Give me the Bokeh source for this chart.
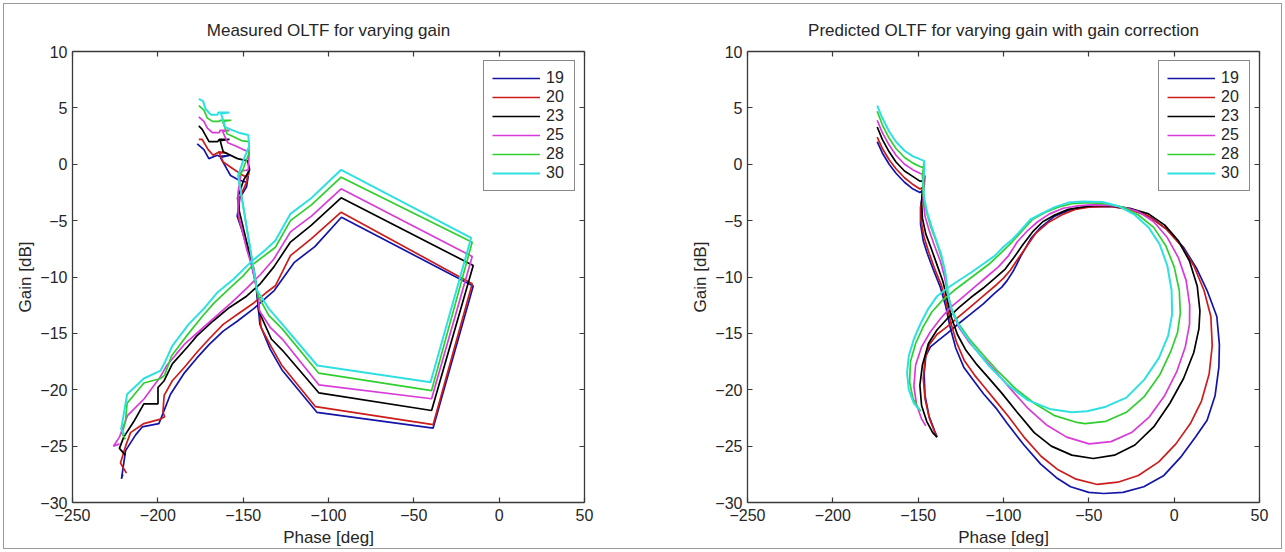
from bokeh.plotting import figure
from bokeh.models import (Range1d, LinearAxis, FixedTicker, Legend, LegendItem, Title,
                          CustomLabelingPolicy)
from bokeh.layouts import row
from bokeh.embed import file_html
from bokeh.resources import INLINE

# ---------------- data ----------------
gains = ["19", "20", "23", "25", "28", "30"]
colors = ["#1414a8", "#cc1c1c", "#000000", "#d93ad9", "#2ecf2e", "#2fe0e0"]
x_ticks = [-250, -200, -150, -100, -50, 0, 50]
y_ticks = [-30, -25, -20, -15, -10, -5, 0, 5, 10]

# Measured OLTF (left)
m19_phase = [-176.9, -173.0, -170.1, -165.2, -164.0, -157.4, -163.3, -160.0, -157.4, -152.6, -148.0, -147.0, -148.0, -152.0, -153.5, -147.4, -142.6, -140.2, -134.2, -127.0, -106.8, -38.7, -15.2, -92.4, -108.0, -120.0, -131.8, -137.0, -143.8, -153.3, -161.7, -170.0, -177.2, -184.4, -192.6, -197.5, -199.4, -209.2, -213.0, -218.9, -221.3, -220.5]
m19_gain = [1.8, 1.3, 0.5, 0.8, 0.7, 0.8, 0.6, -0.3, -1.0, -1.4, -1.6, -1.0, -2.0, -3.0, -4.6, -7.3, -10.5, -14.2, -16.4, -18.3, -22.0, -23.4, -10.8, -4.7, -7.3, -8.7, -11.2, -11.9, -12.8, -13.9, -14.8, -16.0, -17.2, -18.5, -20.4, -22.3, -23.0, -23.3, -24.0, -25.4, -27.9, -27.5]

m20_phase = [-176.0, -174.0, -170.5, -167.6, -164.0, -159.3, -164.0, -161.7, -156.0, -151.0, -148.5, -146.7, -146.5, -148.0, -152.2, -152.6, -148.5, -143.8, -140.9, -139.5, -133.5, -127.5, -107.6, -38.7, -15.8, -92.6, -110.0, -122.3, -131.0, -136.6, -143.8, -153.3, -161.7, -170.0, -177.2, -184.4, -191.5, -196.3, -197.0, -196.0, -198.4, -208.2, -216.0, -218.9, -221.9, -218.4]
m20_gain = [2.2, 2.2, 1.3, 0.8, 1.1, 1.0, 1.0, 0.2, -0.4, -0.9, -1.1, -0.9, -0.2, -1.6, -3.0, -4.8, -7.0, -9.2, -12.3, -14.5, -16.2, -17.8, -21.5, -23.1, -10.6, -4.25, -6.6, -8.1, -10.75, -11.4, -12.3, -13.3, -14.2, -15.5, -16.7, -18.0, -19.2, -20.5, -22.0, -22.4, -22.6, -23.0, -23.8, -25.0, -26.5, -27.4]

m23_phase = [-176.0, -174.0, -170.0, -165.0, -164.0, -158.0, -163.5, -161.7, -153.3, -147.4, -146.2, -149.7, -153.3, -152.2, -146.2, -141.9, -140.9, -133.5, -127.0, -105.7, -39.6, -15.2, -92.6, -110.0, -122.3, -132.0, -140.0, -148.0, -158.0, -167.6, -177.0, -182.0, -191.5, -196.3, -199.9, -199.9, -208.2, -214.0, -220.0, -222.5, -219.0]
m23_gain = [3.4, 3.1, 2.0, 2.0, 2.2, 2.2, 2.1, 1.1, 0.5, 0.3, -0.5, -1.4, -3.0, -4.2, -8.0, -11.1, -13.0, -15.5, -16.5, -20.27, -21.84, -8.98, -2.98, -5.4, -6.9, -9.1, -10.6, -11.7, -12.7, -13.9, -15.2, -16.1, -17.7, -19.2, -19.8, -21.25, -21.25, -22.8, -24.2, -25.2, -25.8]

m25_phase = [-176.0, -173.0, -171.0, -168.0, -164.0, -163.5, -158.0, -162.0, -159.0, -154.0, -150.0, -146.5, -147.0, -151.0, -153.0, -153.0, -148.0, -145.0, -141.5, -140.5, -134.0, -127.1, -105.7, -39.6, -15.8, -92.6, -110.0, -122.3, -132.0, -140.0, -148.0, -157.0, -166.0, -175.0, -184.0, -189.0, -195.0, -198.7, -208.0, -217.8, -222.5, -226.0, -222.5]
m25_gain = [4.2, 3.8, 3.2, 2.8, 2.8, 3.0, 3.0, 2.9, 1.9, 1.6, 1.3, 1.1, -0.5, -0.6, -2.5, -4.3, -7.5, -9.0, -11.5, -13.0, -14.5, -15.5, -19.56, -20.8, -8.18, -2.18, -4.6, -6.0, -8.4, -9.8, -11.0, -12.3, -13.5, -14.7, -15.9, -16.8, -17.9, -18.9, -20.8, -22.3, -24.2, -25.0, -24.8]

m28_phase = [-176.0, -173.0, -171.0, -168.0, -164.0, -163.5, -157.0, -162.0, -159.5, -155.0, -151.0, -146.7, -146.5, -150.0, -152.6, -147.0, -141.5, -135.0, -127.1, -105.7, -39.6, -15.8, -92.6, -110.0, -122.3, -131.1, -143.8, -150.0, -158.0, -167.0, -174.0, -183.0, -192.0, -196.0, -198.4, -208.2, -218.0, -218.9, -220.9, -219.0]
m28_gain = [5.2, 4.8, 4.1, 3.8, 3.8, 3.9, 3.9, 3.8, 2.7, 2.4, 2.1, 2.0, 1.0, -0.4, -1.2, -6.5, -11.6, -13.4, -14.6, -18.53, -20.07, -6.91, -1.15, -3.6, -5.0, -7.36, -8.83, -9.9, -11.0, -12.3, -13.5, -15.2, -17.0, -18.7, -19.0, -19.4, -21.2, -22.7, -23.9, -24.4]

m30_phase = [-176.0, -173.5, -172.0, -169.0, -165.0, -164.5, -158.0, -163.0, -160.5, -156.0, -152.6, -147.0, -146.5, -150.0, -153.0, -147.5, -141.8, -135.0, -128.1, -106.6, -40.2, -16.4, -92.6, -110.0, -122.3, -131.1, -137.0, -145.7, -155.7, -165.3, -172.4, -182.0, -191.5, -196.3, -198.4, -208.2, -218.0, -219.9, -221.5, -219.5]
m30_gain = [5.8, 5.6, 4.9, 4.4, 4.4, 4.6, 4.6, 4.5, 3.3, 3.0, 2.8, 2.6, 1.6, 0.3, -1.0, -6.0, -11.2, -12.8, -14.0, -17.85, -19.33, -6.52, -0.49, -3.0, -4.4, -6.76, -7.6, -8.7, -10.2, -11.4, -12.7, -14.2, -16.1, -17.7, -18.3, -19.0, -20.4, -22.1, -23.5, -24.0]

# Predicted OLTF with gain correction (right)
p19_phase = [-174.0, -171.0, -167.0, -163.0, -158.0, -153.0, -149.0, -147.0, -146.5, -147.5, -148.6, -148.6, -147.0, -144.7, -141.0, -137.0, -134.0, -131.5, -128.0, -123.3, -117.0, -111.5, -104.0, -97.8, -88.0, -78.2, -69.0, -60.7, -50.0, -41.2, -30.0, -17.8, -6.0, 3.7, 12.5, 19.3, 24.0, 26.2, 26.5, 25.0, 19.3, 13.0, 5.6, -4.0, -13.9, -25.0, -37.3, -45.0, -53.0, -62.0, -70.0, -78.2, -84.0, -90.0, -94.0, -97.8, -101.0, -105.6, -112.0, -119.3, -126.0, -133.0, -138.0, -142.8, -145.5, -146.5, -146.0, -143.7, -140.5, -138.9]
p19_gain = [2.0, 1.0, 0.0, -0.8, -1.6, -2.2, -2.5, -2.3, -1.5, -2.8, -3.8, -5.3, -6.8, -7.9, -9.4, -10.9, -12.5, -14.3, -16.3, -18.0, -19.3, -20.4, -21.7, -23.0, -24.9, -26.6, -27.8, -28.6, -29.1, -29.2, -29.1, -28.6, -27.6, -26.0, -24.2, -22.7, -20.5, -18.0, -16.0, -13.5, -11.2, -9.2, -7.4, -5.8, -4.7, -4.0, -3.75, -3.75, -3.8, -4.1, -4.6, -5.6, -6.6, -8.2, -9.4, -10.3, -10.9, -11.5, -12.4, -13.3, -14.1, -15.0, -15.6, -16.2, -17.0, -18.6, -20.5, -22.3, -23.6, -24.2]

p20_phase = [-174.0, -171.0, -167.0, -163.0, -158.0, -153.0, -149.0, -146.5, -146.0, -147.0, -148.3, -148.3, -146.5, -144.0, -140.5, -136.5, -133.5, -131.0, -127.5, -123.0, -117.0, -111.0, -104.0, -97.0, -88.0, -78.0, -68.0, -58.0, -45.0, -33.0, -21.0, -9.0, 1.0, 9.5, 16.0, 20.5, 22.3, 21.5, 17.5, 11.5, 4.0, -5.0, -15.0, -26.0, -37.0, -42.6, -50.0, -58.0, -66.0, -74.0, -81.0, -87.0, -92.0, -96.0, -100.0, -105.0, -112.0, -119.0, -126.0, -133.0, -139.0, -143.5, -146.0, -147.0, -146.0, -143.5, -140.5, -139.0]
p20_gain = [2.4, 1.4, 0.4, -0.4, -1.2, -1.8, -2.2, -2.0, -1.0, -2.5, -3.6, -5.0, -6.5, -7.7, -9.2, -10.7, -12.3, -14.0, -15.8, -17.4, -18.7, -19.8, -21.1, -22.4, -24.2, -25.9, -27.1, -27.9, -28.4, -28.2, -27.6, -26.4, -24.8, -23.0, -21.0, -18.6, -16.1, -13.5, -11.2, -9.0, -7.2, -5.7, -4.6, -4.0, -3.75, -3.75, -3.8, -4.0, -4.5, -5.2, -6.1, -7.4, -8.5, -9.4, -10.1, -10.8, -11.7, -12.6, -13.5, -14.4, -15.1, -16.0, -17.3, -19.0, -20.8, -22.5, -23.7, -24.2]

p23_phase = [-174.0, -171.0, -167.0, -163.0, -158.0, -153.0, -149.0, -147.0, -146.5, -147.5, -148.0, -147.5, -145.5, -142.5, -139.0, -135.5, -133.0, -130.5, -127.0, -122.0, -116.0, -109.0, -101.0, -92.0, -82.0, -72.0, -60.0, -47.4, -35.0, -23.0, -12.0, -2.5, 5.5, 11.5, 14.5, 15.1, 13.5, 9.0, 2.5, -5.5, -15.0, -26.0, -37.0, -46.2, -54.0, -62.0, -70.0, -77.0, -83.0, -89.0, -94.0, -99.0, -105.0, -112.0, -119.0, -126.0, -133.0, -139.0, -144.0, -147.5, -149.0, -148.0, -145.0, -141.5, -139.0]
p23_gain = [3.3, 2.2, 1.1, 0.2, -0.6, -1.1, -1.5, -1.5, -0.8, -2.3, -3.3, -4.8, -6.2, -7.4, -8.9, -10.4, -12.0, -13.6, -15.1, -16.5, -17.7, -18.9, -20.3, -22.0, -23.8, -25.0, -25.8, -26.1, -25.8, -24.9, -23.3, -21.2, -19.0, -16.7, -14.6, -13.0, -10.8, -8.6, -6.8, -5.4, -4.4, -3.9, -3.7, -3.65, -3.8, -4.0, -4.5, -5.1, -6.0, -7.2, -8.3, -9.3, -10.1, -11.0, -11.8, -12.7, -13.7, -14.7, -15.9, -17.8, -19.6, -21.4, -22.8, -23.8, -24.2]

p25_phase = [-174.0, -171.0, -167.0, -163.0, -158.0, -153.0, -149.0, -147.0, -146.5, -147.0, -147.0, -146.0, -143.5, -140.5, -137.0, -134.5, -132.5, -130.0, -126.0, -120.0, -113.0, -105.0, -96.0, -86.0, -75.0, -63.0, -49.8, -37.0, -25.0, -14.5, -5.5, 1.5, 6.5, 9.0, 9.1, 7.0, 2.5, -4.0, -12.0, -21.0, -30.0, -38.0, -48.6, -57.0, -65.0, -73.0, -80.0, -86.0, -92.0, -97.0, -103.0, -110.0, -117.0, -124.0, -131.0, -137.0, -143.0, -148.0, -151.5, -152.5, -151.0, -148.0, -145.5]
p25_gain = [3.9, 2.8, 1.7, 0.8, 0.0, -0.5, -0.8, -0.9, -0.3, -1.8, -3.2, -4.6, -5.9, -7.2, -8.6, -10.0, -11.6, -13.1, -14.5, -15.8, -17.0, -18.3, -19.9, -21.6, -23.1, -24.2, -24.8, -24.6, -23.8, -22.4, -20.5, -18.4, -16.2, -14.2, -12.5, -10.3, -8.3, -6.5, -5.1, -4.2, -3.8, -3.65, -3.6, -3.7, -3.9, -4.4, -5.1, -5.9, -6.9, -8.1, -9.1, -10.0, -10.9, -11.8, -12.7, -13.7, -14.9, -16.2, -17.8, -19.7, -21.3, -22.6, -23.2]

p28_phase = [-174.0, -171.0, -167.0, -163.0, -158.0, -153.0, -149.0, -147.0, -146.5, -147.5, -147.0, -145.0, -142.5, -139.5, -136.5, -134.0, -133.0, -130.5, -126.5, -120.0, -112.0, -103.0, -93.0, -82.0, -70.0, -57.0, -52.2, -40.0, -28.0, -17.5, -8.5, -2.0, 2.0, 3.6, 3.0, 0.0, -5.0, -12.0, -21.0, -30.0, -40.0, -51.0, -60.0, -68.0, -76.0, -83.0, -89.0, -95.0, -101.0, -108.0, -115.0, -122.0, -129.0, -136.0, -142.0, -147.0, -151.5, -154.5, -155.0, -153.0, -150.0, -148.5]
p28_gain = [4.7, 3.5, 2.3, 1.4, 0.6, 0.1, -0.2, -0.3, 0.2, -1.0, -2.8, -4.3, -5.6, -6.8, -8.2, -9.7, -11.3, -12.8, -14.1, -15.5, -16.9, -18.4, -19.9, -21.2, -22.3, -22.9, -23.0, -22.8, -22.0, -20.6, -18.7, -16.6, -14.9, -13.2, -11.2, -9.1, -7.2, -5.6, -4.5, -3.8, -3.5, -3.4, -3.5, -3.8, -4.3, -4.9, -5.9, -6.9, -7.8, -8.8, -9.6, -10.4, -11.2, -12.1, -13.1, -14.4, -15.9, -17.5, -19.3, -20.8, -21.6, -21.9]

p30_phase = [-174.0, -171.0, -167.0, -163.0, -158.0, -153.0, -149.0, -146.5, -146.3, -147.0, -146.5, -144.5, -142.0, -139.5, -136.5, -134.5, -133.0, -132.0, -129.5, -125.0, -118.0, -109.0, -98.0, -86.0, -73.0, -60.0, -51.0, -40.0, -28.0, -17.5, -9.0, -3.5, -1.2, -1.5, -4.0, -8.5, -15.0, -23.0, -32.0, -42.0, -53.4, -62.0, -70.0, -78.0, -84.2, -90.0, -95.0, -99.8, -105.0, -111.5, -119.0, -127.1, -133.0, -138.9, -144.0, -148.5, -152.5, -155.5, -156.5, -155.5, -152.5, -149.0]
p30_gain = [5.2, 4.1, 2.9, 2.0, 1.2, 0.7, 0.45, 0.3, -0.4, -1.5, -3.0, -4.4, -5.6, -6.7, -8.0, -9.3, -10.8, -12.0, -13.3, -14.6, -16.1, -17.8, -19.5, -20.9, -21.7, -22.0, -21.9, -21.5, -20.7, -19.1, -17.2, -15.2, -13.3, -11.2, -9.0, -7.1, -5.6, -4.5, -3.75, -3.35, -3.3, -3.4, -3.8, -4.4, -4.9, -5.9, -6.7, -7.3, -8.1, -8.8, -9.6, -10.4, -11.0, -11.7, -12.8, -14.1, -15.5, -17.0, -18.5, -20.0, -21.2, -21.8]

measured = [(m19_phase, m19_gain), (m20_phase, m20_gain), (m23_phase, m23_gain),
            (m25_phase, m25_gain), (m28_phase, m28_gain), (m30_phase, m30_gain)]
predicted = [(p19_phase, p19_gain), (p20_phase, p20_gain), (p23_phase, p23_gain),
             (p25_phase, p25_gain), (p28_phase, p28_gain), (p30_phase, p30_gain)]

FONT = "Liberation Sans"
TXT = "#262626"
AXC = "#3a3a3a"

# the box axes (top/right) carry ticks only: drop every label
NO_LABELS = """
for (const i of indices) {
    indices.unset(i)
}
return indices
"""


def base_axis_style(ax):
    ax.axis_line_color = AXC
    ax.axis_line_width = 1.3
    ax.major_tick_line_color = AXC
    ax.major_tick_line_width = 1.2
    ax.major_tick_in = 5
    ax.major_tick_out = 0
    ax.minor_tick_line_color = None


def make_plot(title, series, left_border, right_border, width):
    p = figure(width=width, height=552, x_range=Range1d(-250, 50), y_range=Range1d(-30, 10),
               output_backend="svg", toolbar_location=None,
               min_border_left=left_border, min_border_right=right_border,
               min_border_top=51, min_border_bottom=50)
    p.xgrid.visible = False
    p.ygrid.visible = False
    p.outline_line_color = None
    p.background_fill_color = None
    p.border_fill_color = None

    xa = p.xaxis[0]
    xa.ticker = FixedTicker(ticks=x_ticks)
    ya = p.yaxis[0]
    ya.ticker = FixedTicker(ticks=y_ticks)
    for ax in (xa, ya):
        base_axis_style(ax)
        ax.major_label_text_font = FONT
        ax.major_label_text_color = TXT
        ax.major_label_text_font_size = "16px"
        ax.axis_label_text_font = FONT
        ax.axis_label_text_color = TXT
        ax.axis_label_text_font_style = "normal"
        ax.axis_label_text_font_size = "17px"
    xa.axis_label = "Phase [deg]"
    xa.major_label_standoff = 6
    xa.axis_label_standoff = 4
    ya.axis_label = "Gain [dB]"
    ya.major_label_standoff = 5
    ya.axis_label_standoff = 2

    top = LinearAxis(ticker=FixedTicker(ticks=x_ticks))
    right = LinearAxis(ticker=FixedTicker(ticks=y_ticks))
    for ax in (top, right):
        base_axis_style(ax)
        ax.major_label_policy = CustomLabelingPolicy(code=NO_LABELS)
        ax.major_label_text_font_size = "8px"
        ax.major_label_standoff = 0
    p.add_layout(top, "above")
    p.add_layout(right, "right")

    p.add_layout(Title(text=title, align="center", text_font=FONT, text_font_size="17px",
                       text_font_style="normal", text_color=TXT, standoff=8), "above")

    items = []
    for (ph, gn), lab, col in zip(series, gains, colors):
        lw = 2.0 if lab == "30" else 1.7
        r = p.line(ph, gn, line_color=col, line_width=lw)
        items.append(LegendItem(label=lab, renderers=[r]))

    leg = Legend(items=items, location="top_right", margin=9, padding=8, spacing=1,
                 glyph_width=48, glyph_height=18, label_height=18, label_standoff=6,
                 label_text_font=FONT, label_text_font_size="16px", label_text_color=TXT,
                 border_line_color="#111111", border_line_width=1.6,
                 background_fill_color="white", background_fill_alpha=1.0)
    p.add_layout(leg)
    return p


p1 = make_plot("Measured OLTF for varying gain", measured, 72, 58, 642)
p2 = make_plot("Predicted OLTF for varying gain with gain correction", predicted, 105, 26, 643)

p = row(p1, p2, width=1285, height=552,
        styles={"outline": "1px solid #9a9a9a", "outline-offset": "-4px",
                "background-color": "white"})

open("out.html", "w").write(file_html(p, INLINE))
